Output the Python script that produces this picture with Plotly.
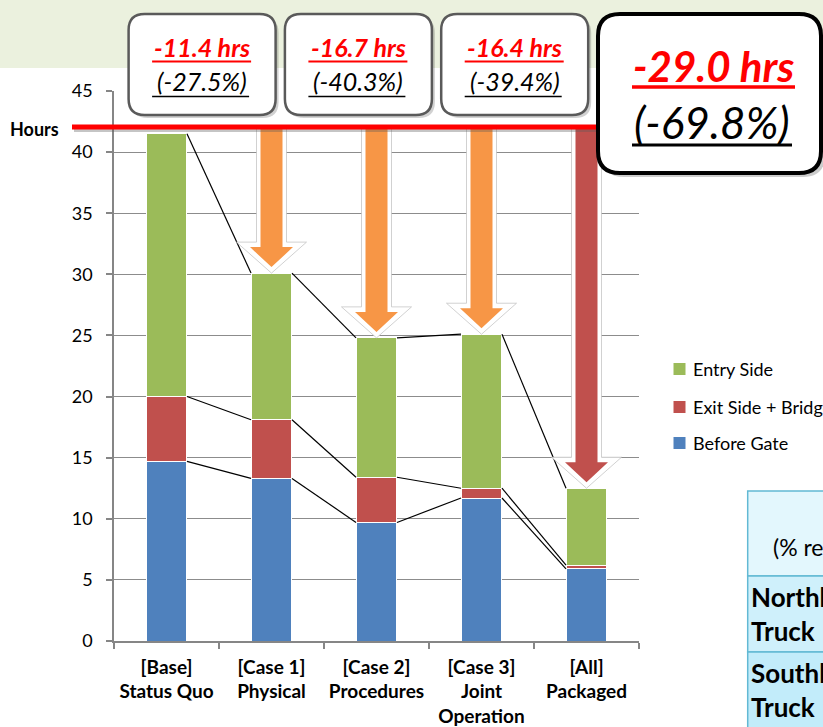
import plotly.graph_objects as go

# ---- data ---------------------------------------------------------------
categories = ["[Base]<br>Status Quo", "[Case 1]<br>Physical", "[Case 2]<br>Procedures",
              "[Case 3]<br>Joint<br>Operation", "[All]<br>Packaged"]
before_gate = [14.7, 13.3, 9.7, 11.7, 5.9]
exit_side = [5.3, 4.8, 3.7, 0.8, 0.3]
entry_side = [21.5, 12.0, 11.4, 12.6, 6.3]
y_ticks = [0, 5, 10, 15, 20, 25, 30, 35, 40, 45]
reference_hours = 42.05
reduction_hrs = ["-11.4", "-16.7", "-16.4", "-29.0"]
reduction_pct = ["-27.5%", "-40.3%", "-39.4%", "-69.8%"]
legend_names = ["Entry Side", "Exit Side + Bridge", "Before Gate"]
table_header = "(% reduction)"
table_rows = ["Northbound<br>Truck", "Southbound<br>Truck"]

# ---- styling ------------------------------------------------------------
C_BLUE, C_RED, C_GREEN = "#4F81BD", "#C0504D", "#9BBB59"
C_ORANGE = "#F79646"
GRID = "#8C8C8C"
FONT = "Lato"

W, H = 823, 727
L, R, T, B = 114, 639, 91, 641
Y_MAX = 45
BAR_W = 0.39
PX_PER_CAT = (R - L) / len(categories)
PX_PER_HOUR = (B - T) / Y_MAX


def px_x(x):
    return (x - L) / (R - L)


def px_y(y):
    return (B - y) / (B - T)


def rrect_path(x0, y0, x1, y1, r):
    pts = [("M", x0 + r, y0), ("L", x1 - r, y0), ("Q", x1, y0, x1, y0 + r),
           ("L", x1, y1 - r), ("Q", x1, y1, x1 - r, y1), ("L", x0 + r, y1),
           ("Q", x0, y1, x0, y1 - r), ("L", x0, y0 + r), ("Q", x0, y0, x0 + r, y0)]
    out = []
    for p in pts:
        cmd, vals = p[0], p[1:]
        coords = []
        for i in range(0, len(vals), 2):
            coords.append(f"{px_x(vals[i]):.5f},{px_y(vals[i + 1]):.5f}")
        out.append(cmd + " ".join(coords))
    return " ".join(out) + " Z"


def arrow_path(xc, y_tip, y_top, shaft_px, head_px, head_h_px, tip_off_px):
    sw = shaft_px / PX_PER_CAT
    hw = head_px / PX_PER_CAT
    tip = y_tip + tip_off_px / PX_PER_HOUR
    base = tip + head_h_px / PX_PER_HOUR
    pts = [(xc - sw, y_top), (xc + sw, y_top), (xc + sw, base), (xc + hw, base),
           (xc, tip), (xc - hw, base), (xc - sw, base)]
    return "M" + " L".join(f"{x:.4f},{y:.4f}" for x, y in pts) + " Z"


xs = list(range(len(categories)))
lvl_blue = before_gate
lvl_red = [b + e for b, e in zip(before_gate, exit_side)]
lvl_total = [r + g for r, g in zip(lvl_red, entry_side)]

fig = go.Figure()
for name, vals, col in [("Before Gate", before_gate, C_BLUE),
                        ("Exit Side + Bridge", exit_side, C_RED),
                        ("Entry Side", entry_side, C_GREEN)]:
    fig.add_trace(go.Bar(x=xs, y=vals, name=name, width=BAR_W, showlegend=False,
                         marker=dict(color=col, line=dict(color="white", width=1))))

# series lines joining the segment tops of neighbouring bars
lx, ly = [], []
half = BAR_W / 2
for lvl in (lvl_blue, lvl_red, lvl_total):
    for i in range(len(xs) - 1):
        lx += [xs[i] + half, xs[i + 1] - half, None]
        ly += [lvl[i], lvl[i + 1], None]
fig.add_trace(go.Scatter(x=lx, y=ly, mode="lines", showlegend=False, hoverinfo="skip",
                         line=dict(color="black", width=1.2)))

shapes = []
# title band
shapes.append(dict(type="rect", xref="paper", yref="paper", layer="below",
                   x0=px_x(0), x1=px_x(W), y0=px_y(0), y1=px_y(68),
                   fillcolor="#EBF1DE", line=dict(width=0)))

# reduction arrows from the reference level down to each bar top
arrow_cols = [C_ORANGE, C_ORANGE, C_ORANGE, C_RED]
for k, col in enumerate(arrow_cols):
    i = k + 1
    shapes.append(dict(type="path", xref="x", yref="y", layer="above",
                       path=arrow_path(xs[i], lvl_total[i], reference_hours, 15, 35, 31, 0),
                       fillcolor="white", line=dict(color="rgba(190,190,190,0.7)", width=1)))
    shapes.append(dict(type="path", xref="x", yref="y", layer="above",
                       path=arrow_path(xs[i], lvl_total[i], reference_hours, 11, 21.5, 20, 6),
                       fillcolor=col, line=dict(width=0)))

# reference line with soft shadow
shapes.append(dict(type="line", xref="paper", yref="y", layer="above",
                   x0=px_x(74), x1=px_x(600), y0=reference_hours - 3 / PX_PER_HOUR,
                   y1=reference_hours - 3 / PX_PER_HOUR,
                   line=dict(color="rgba(90,90,90,0.35)", width=4)))
shapes.append(dict(type="line", xref="paper", yref="y", layer="above",
                   x0=px_x(72), x1=px_x(600), y0=reference_hours, y1=reference_hours,
                   line=dict(color="#FF0000", width=5)))

# callout boxes
small_boxes = [(128.6 + k * 156.3, 14, 275.6 + k * 156.3, 115) for k in range(3)]
for (x0, y0, x1, y1) in small_boxes:
    shapes.append(dict(type="path", xref="paper", yref="paper", layer="above",
                       path=rrect_path(x0 + 3, y0 + 3, x1 + 3, y1 + 3, 16),
                       fillcolor="rgba(0,0,0,0.18)", line=dict(width=0)))
    shapes.append(dict(type="path", xref="paper", yref="paper", layer="above",
                       path=rrect_path(x0, y0, x1, y1, 16),
                       fillcolor="white", line=dict(color="#5A5A5A", width=2.5)))
big_box = (598, 14, 821, 173)
shapes.append(dict(type="path", xref="paper", yref="paper", layer="above",
                   path=rrect_path(big_box[0] + 4, big_box[1] + 4, big_box[2] + 4, big_box[3] + 4, 22),
                   fillcolor="rgba(0,0,0,0.2)", line=dict(width=0)))
shapes.append(dict(type="path", xref="paper", yref="paper", layer="above",
                   path=rrect_path(*big_box, 22),
                   fillcolor="white", line=dict(color="black", width=4)))


def underline(x0, x1, y, color, width):
    shapes.append(dict(type="line", xref="paper", yref="paper", layer="above",
                       x0=px_x(x0), x1=px_x(x1), y0=px_y(y), y1=px_y(y),
                       line=dict(color=color, width=width)))


for (x0, y0, x1, y1) in small_boxes:
    cx = (x0 + x1) / 2
    underline(cx - 50, cx + 49, 61.5, "#FF0000", 2)
    underline(cx - 50, cx + 47, 96.5, "black", 1.5)
underline(632, 795, 87, "#FF0000", 3.5)
underline(632, 792, 145, "black", 3)

# side table
table_cells = [(747.7, 491, 860, 576, "#E3F7FD"),
               (747.7, 576, 860, 652, "#CFF0FB"),
               (747.7, 652, 860, 760, "#C2ECFA")]
for (x0, y0, x1, y1, fc) in table_cells:
    shapes.append(dict(type="rect", xref="paper", yref="paper", layer="above",
                       x0=px_x(x0), x1=px_x(x1), y0=px_y(y0), y1=px_y(y1),
                       fillcolor=fc, line=dict(color="#62B9D4", width=1.5)))

# legend swatches
legend_cols = [C_GREEN, C_RED, C_BLUE]
legend_y = [369, 407, 443]
for col, yy in zip(legend_cols, legend_y):
    shapes.append(dict(type="rect", xref="paper", yref="paper", layer="above",
                       x0=px_x(673), x1=px_x(686), y0=px_y(yy - 6.5), y1=px_y(yy + 6.5),
                       fillcolor=col, line=dict(color="white", width=1)))

annotations = []


def txt(text, cx, cy, size, color="black", xanchor="center"):
    annotations.append(dict(text=text, x=px_x(cx), y=px_y(cy), xref="paper", yref="paper",
                            xanchor=xanchor, yanchor="middle", showarrow=False,
                            align="left" if xanchor == "left" else "center",
                            font=dict(family=FONT, size=size, color=color)))


for k, (x0, y0, x1, y1) in enumerate(small_boxes):
    cx = (x0 + x1) / 2
    txt(f"<b><i>{reduction_hrs[k]} hrs</i></b>", cx, 47, 25, "#FF0000")
    txt(f"<i>({reduction_pct[k]})</i>", cx, 81, 25, "black")
txt(f"<b><i>{reduction_hrs[3]} hrs</i></b>", 713, 66, 42, "#FF0000")
txt(f"<i>({reduction_pct[3]})</i>", 712, 122, 44, "black")

txt("<b>Hours</b>", 8, 129, 18, xanchor="left")

for name, yy in zip(legend_names, legend_y):
    txt(name, 691, yy, 18, xanchor="left")

txt(table_header, 771, 547, 23, xanchor="left")
txt(f"<b>{table_rows[0]}</b>", 749, 614, 26, xanchor="left")
txt(f"<b>{table_rows[1]}</b>", 749, 690, 26, xanchor="left")

fig.update_layout(
    width=W, height=H,
    margin=dict(l=L, r=W - R, t=T, b=H - B, pad=0),
    paper_bgcolor="white", plot_bgcolor="white",
    barmode="stack", bargap=0.61,
    showlegend=False,
    shapes=shapes, annotations=annotations,
    font=dict(family=FONT, color="black"),
    xaxis=dict(range=[-0.5, len(categories) - 0.5], tickmode="array", tickvals=xs,
               ticktext=categories, ticks="", showline=True, linecolor="#868686",
               linewidth=1.5, showgrid=False, zeroline=False, automargin=False,
               tickfont=dict(family=FONT, size=19, color="black", weight="bold"),
               ticklabelstandoff=8,
               minor=dict(tickmode="linear", tick0=-0.5, dtick=1, ticks="outside",
                          ticklen=6, tickcolor="#868686", tickwidth=1.5, showgrid=False)),
    yaxis=dict(range=[0, Y_MAX], tickmode="array", tickvals=y_ticks, ticks="outside",
               ticklen=6, tickcolor="#868686", tickwidth=1.5, showline=True,
               linecolor="#868686", linewidth=1.5, showgrid=True, gridcolor=GRID,
               gridwidth=1, zeroline=False, ticklabelstandoff=10, automargin=False,
               tickfont=dict(family=FONT, size=18, color="black")),
)

fig.write_html("out.html")
